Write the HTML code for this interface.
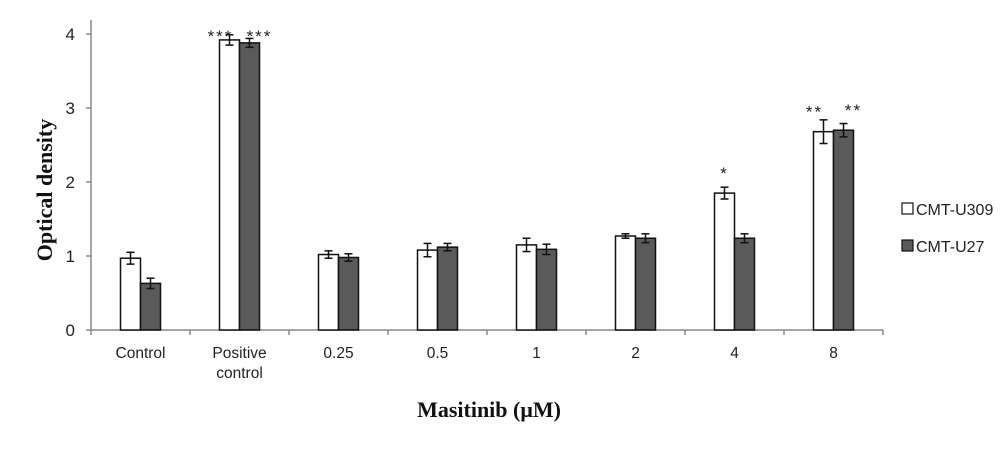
<!DOCTYPE html>
<html><head><meta charset="utf-8"><style>
body{margin:0;background:#fff;width:1003px;height:450px;overflow:hidden}
text{font-family:"Liberation Sans",sans-serif}
</style></head><body>
<svg id="chart" width="1003" height="450" xmlns="http://www.w3.org/2000/svg"></svg>
<script>
const categories=[["Control"],["Positive","control"],["0.25"],["0.5"],["1"],["2"],["4"],["8"]];
const u309=[0.97,3.92,1.02,1.08,1.15,1.27,1.85,2.68];
const u309err=[0.08,0.07,0.05,0.09,0.09,0.03,0.08,0.16];
const u27=[0.63,3.88,0.98,1.12,1.09,1.24,1.24,2.70];
const u27err=[0.07,0.06,0.05,0.05,0.07,0.06,0.06,0.09];
const sig309=["","***","","","","","*","**"];
const sig27=["","***","","","","","","**"];
const yTicks=[0,1,2,3,4];
const svg=document.getElementById('chart');
const NS="http://www.w3.org/2000/svg";
const x0=91,x1=883,y0=330,pxU=74;
const bw=(x1-x0)/categories.length;
const Y=v=>y0-v*pxU;
const XC=i=>x0+bw*(i+0.5);
function mk(t,a,txt){const e=document.createElementNS(NS,t);for(const k in a)e.setAttribute(k,a[k]);if(txt!==undefined)e.textContent=txt;svg.appendChild(e);return e;}
let e;
e=mk('line',{x1:x0,y1:y0,x2:x0,y2:20,stroke:'#888','stroke-width':1.5});


e=mk('line',{x1:x0,y1:y0,x2:x1,y2:y0,stroke:'#888','stroke-width':1.5});


yTicks.forEach(t=>{
 mk('line',{x1:x0-5,y1:Y(t),x2:x0,y2:Y(t),stroke:'#888','stroke-width':1.5});
 e=mk('text',{x:x0-16,y:Y(t)+6,'font-size':17,'text-anchor':'end',fill:'#222'},t);
 
 
});
for(let i=0;i<=categories.length;i++){mk('line',{x1:x0+bw*i,y1:y0,x2:x0+bw*i,y2:y0+5,stroke:'#888','stroke-width':1.5});}
function bar(i,v,err,fill,off,name,sig,sdx){
 const x=XC(i)+off;
 e=mk('rect',{x:x,y:Y(v),width:20,height:y0-Y(v),fill:fill,stroke:'#111','stroke-width':1.5});
 
 
 const cx=x+10;
 mk('line',{x1:cx,y1:Y(v+err),x2:cx,y2:Y(v-err),stroke:'#111','stroke-width':1.5});
 mk('line',{x1:cx-4,y1:Y(v+err),x2:cx+4,y2:Y(v+err),stroke:'#111','stroke-width':1.5});
 mk('line',{x1:cx-4,y1:Y(v-err),x2:cx+4,y2:Y(v-err),stroke:'#111','stroke-width':1.5});
 if(sig){const cy=Math.max(Math.min(Y(v)-26,Y(v+err)-10),30);
 const dx=sig.length>1?sdx:0;
 e=mk('text',{x:cx+dx,y:cy+12,'font-size':17,'letter-spacing':2,'text-anchor':'middle',fill:'#222'},sig);
 
 }
}
categories.forEach((c,i)=>{
 bar(i,u309[i],u309err[i],'#fff',-20,'bar-cmt-u309',sig309[i],-9);
 bar(i,u27[i],u27err[i],'#5a5a5a',0,'bar-cmt-u27',sig27[i],10);
 c.forEach((l,j)=>{e=mk('text',{x:XC(i),y:358+j*20,'font-size':15.5,'text-anchor':'middle',fill:'#222'},l);
 
 });
});
e=mk('text',{x:0,y:0,'font-size':22,'font-weight':'bold','text-anchor':'middle',fill:'#111',transform:'translate(52,190) rotate(-90)',style:'font-family:"Liberation Serif",serif'},'Optical density');


e=mk('text',{x:489,y:417,'font-size':22,'font-weight':'bold','text-anchor':'middle',fill:'#111',style:'font-family:"Liberation Serif",serif'},'Masitinib (μM)');


e=mk('rect',{x:902,y:203,width:11,height:11,fill:'#fff',stroke:'#111','stroke-width':1.2});


e=mk('text',{x:916,y:215,'font-size':16,fill:'#222'},'CMT-U309');


e=mk('rect',{x:902,y:240,width:11,height:11,fill:'#5a5a5a',stroke:'#111','stroke-width':1.2});


e=mk('text',{x:916,y:252,'font-size':16,fill:'#222'},'CMT-U27');


</script>
</body></html>
